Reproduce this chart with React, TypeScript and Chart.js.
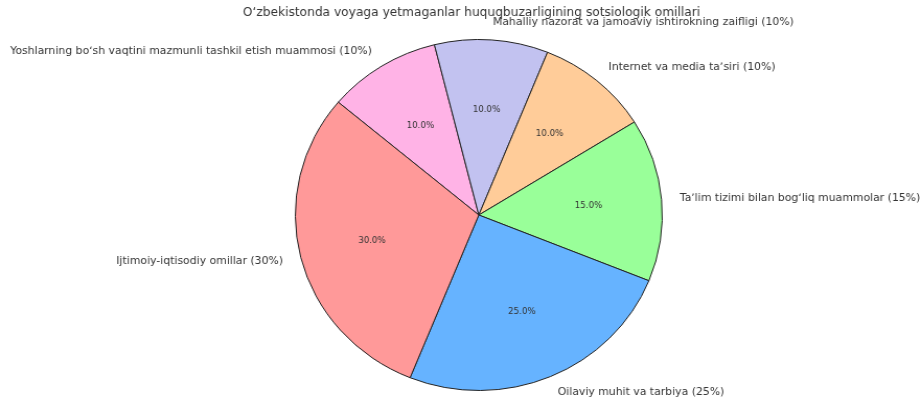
import React, { useEffect, useRef } from "react";
import { Chart, registerables } from "chart.js";

Chart.register(...registerables);

const categories = [
  "Ijtimoiy-iqtisodiy omillar",
  "Oilaviy muhit va tarbiya",
  "Taʼlim tizimi bilan bogʻliq muammolar",
  "Internet va media taʼsiri",
  "Mahalliy nazorat va jamoaviy ishtirokning zaifligi",
  "Yoshlarning boʻsh vaqtini mazmunli tashkil etish muammosi",
];
const shares = [30, 25, 15, 10, 10, 10];
const colors = ["#ff9999", "#66b3ff", "#99ff99", "#ffcc99", "#c2c2f0", "#ffb3e6"];
const titleText = "Oʻzbekistonda voyaga yetmaganlar huquqbuzarligining sotsiologik omillari";

const W = 881;
const H = 403;
const FONT = "'DejaVu Sans', sans-serif";

export default function App() {
  const ref = useRef<HTMLCanvasElement | null>(null);
  useEffect(() => {
    const canvas = ref.current!;
    // matplotlib draws counter-clockwise; Chart.js clockwise -> reverse order
    const labels = [...categories].reverse();
    const values = [...shares].reverse();
    const bg = [...colors].reverse();
    const total = values.reduce((a, b) => a + b, 0);

    const textPlugin = {
      id: "pieText",
      afterDatasetsDraw(chart: any) {
        const ctx = chart.ctx;
        const meta = chart.getDatasetMeta(0);
        ctx.save();
        meta.data.forEach((arc: any, i: number) => {
          const p = arc.getProps(["x", "y", "startAngle", "endAngle", "outerRadius"], true);
          const mid = (p.startAngle + p.endAngle) / 2;
          const r = p.outerRadius;
          // percent
          ctx.fillStyle = "#333";
          ctx.font = `8.3px ${FONT}`;
          ctx.textAlign = "center";
          ctx.textBaseline = "middle";
          const pct = ((values[i] / total) * 100).toFixed(1) + "%";
          ctx.fillText(pct, p.x + Math.cos(mid) * r * 0.6, p.y + Math.sin(mid) * r * 0.6);
          // label
          ctx.font = `10.4px ${FONT}`;
          const lx = p.x + Math.cos(mid) * r * 1.1;
          const ly = p.y + Math.sin(mid) * r * 1.1;
          ctx.textAlign = Math.cos(mid) >= 0 ? "left" : "right";
          ctx.fillText(`${labels[i]} (${values[i]}%)`, lx, ly);
        });
        // title
        ctx.font = `11.7px ${FONT}`;
        ctx.textAlign = "center";
        ctx.textBaseline = "middle";
        ctx.fillStyle = "#333";
        ctx.fillText(titleText, 451, 13);
        ctx.restore();
      },
    };

    const chart = new Chart(canvas, {
      type: "pie",
      data: {
        labels,
        datasets: [
          {
            data: values,
            backgroundColor: bg,
            borderColor: "#222",
            borderWidth: 1,
            borderAlign: "center",
          },
        ],
      },
      options: {
        responsive: false,
        animation: false,
        rotation: -50,
        layout: { padding: { top: 39, bottom: 12, left: 282, right: 247 } },
        plugins: {
          legend: { display: false },
          tooltip: { enabled: false },
          title: { display: false },
        },
      },
      plugins: [textPlugin],
    });
    return () => chart.destroy();
  }, []);

  return (
    <div style={{ position: "fixed", left: 0, top: 0, width: 921, height: 403, background: "#fff" }}>
      <canvas ref={ref} width={W} height={H} style={{ width: "921px", height: "403px", display: "block" }} />
    </div>
  );
}
